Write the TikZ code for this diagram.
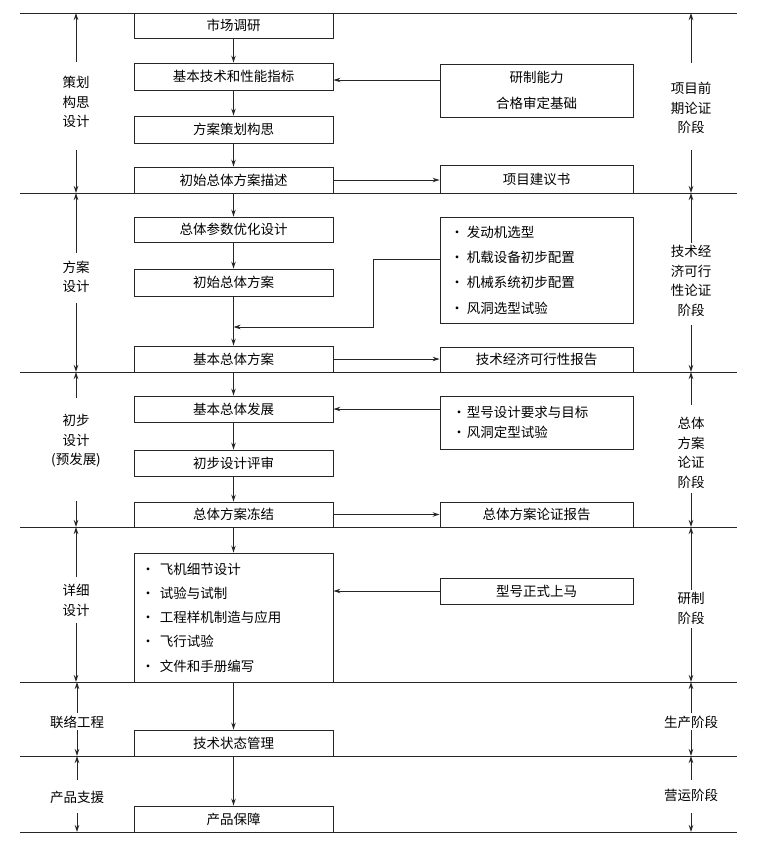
\documentclass[tikz,border=0pt]{standalone}
\usepackage{fontspec}
\setmainfont{Noto Sans CJK SC}
\usetikzlibrary{arrows.meta}
\newcommand\bul[1]{\makebox[#1][l]{\makebox[0pt]{•}}}
% #1 name, #2 x, #3 label y, #4 up-start y, #5 down-start y, #6 top line, #7 bottom line, #8 text
\newcommand\phase[8]{%
  \node[lab] (#1) at (#2,#3) {#8};
  \coordinate (#1u) at (#2,#4);
  \coordinate (#1d) at (#2,#5);
  \draw[arr] (#1u) -- (#1u |- #6);
  \draw[arr] (#1d) -- (#1d |- #7);}
\begin{document}
\begin{tikzpicture}[x=1pt,y=-1pt,
  ln/.style={line width=0.9pt, draw=black!85},
  arr/.style={ln,-{Stealth[length=7pt,width=4.5pt]}},
  mbox/.style={ln, minimum width=199pt, inner sep=0pt, font=\fontsize{13.5}{16}\selectfont},
  rbox/.style={ln, minimum width=193pt, inner sep=0pt, font=\fontsize{13.5}{16}\selectfont},
  lab/.style={align=center, inner sep=0pt, font=\fontsize{13.5}{19.5}\selectfont}]
\useasboundingbox (0,0) rectangle (757,844);

% separators
\foreach \n/\y in {0/13,1/193,2/372,3/527,4/682,5/756,6/832}{
  \coordinate (h\n) at (20,\y);
  \coordinate (g\n) at (737,\y);
}
\foreach \n in {0,...,6}{\draw[ln] (h\n) -- (g\n);}

% main column
\node[mbox, minimum height=25pt] (b1) at (233.5,25.5) {市场调研};
\node[mbox, minimum height=27pt] (b2) at (233.5,76.5) {基本技术和性能指标};
\node[mbox, minimum height=27pt] (b3) at (233.5,129.5) {方案策划构思};
\node[mbox, minimum height=26pt] (b4) at (233.5,180) {初始总体方案描述};
\node[mbox, minimum height=25pt] (b5) at (233.5,229.5) {总体参数优化设计};
\node[mbox, minimum height=27pt] (b6) at (233.5,282.5) {初始总体方案};
\node[mbox, minimum height=26pt] (b7) at (233.5,359) {基本总体方案};
\node[mbox, minimum height=26pt] (b8) at (233.5,409) {基本总体发展};
\node[mbox, minimum height=26pt] (b9) at (233.5,463) {初步设计评审};
\node[mbox, minimum height=25pt] (b10) at (233.5,514.5) {总体方案冻结};
\node[mbox, minimum height=129pt, text width=171pt, inner xsep=14pt, align=left,
      font=\fontsize{13.5}{24.3}\selectfont] (b11) at (233.5,617.5)
  {\bul{12pt}飞机细节设计\\\bul{12pt}试验与试制\\\bul{12pt}工程样机制造与应用\\\bul{12pt}飞行试验\\\bul{12pt}文件和手册编写};
\node[mbox, minimum height=26pt] (b12) at (233.5,743) {技术状态管理};
\node[mbox, minimum height=26pt] (b13) at (233.5,819) {产品保障};

\foreach \a/\b in {b1/b2,b2/b3,b3/b4,b4/b5,b5/b6,b6/b7,b7/b8,b8/b9,b9/b10,b10/b11,b11/b12,b12/b13}{
  \draw[arr] (\a.south) -- (\b.north);
}

% right column
\node[rbox, minimum height=53pt, align=center, font=\fontsize{13.5}{26}\selectfont] (r1) at (536.5,90.5) {研制能力\\合格审定基础};
\node[rbox, minimum height=28pt] (r2) at (536.5,179) {项目建议书};
\node[rbox, minimum height=106pt, text width=159pt, inner xsep=17pt, align=left,
      font=\fontsize{13.5}{25.3}\selectfont] (r3) at (536.5,270)
  {\bul{10pt}发动机选型\\\bul{10pt}机载设备初步配置\\\bul{10pt}机械系统初步配置\\\bul{10pt}风洞选型试验};
\node[rbox, minimum height=25pt] (r4) at (536.5,359.5) {技术经济可行性报告};
\node[rbox, minimum height=53pt, text width=155pt, inner xsep=19pt, align=left,
      font=\fontsize{13.5}{20}\selectfont] (r5) at (536.5,422.5)
  {\bul{8pt}型号设计要求与目标\\\bul{8pt}风洞定型试验};
\node[rbox, minimum height=25pt] (r6) at (536.5,514.5) {总体方案论证报告};
\node[rbox, minimum height=26pt] (r7) at (536.5,591) {型号正式上马};

% horizontal connectors
\coordinate (y80) at (0,80);
\draw[arr] (r1.west |- y80) -- (b2.east |- y80);
\draw[arr] (b4.east) -- (b4.east -| r2.west);
\coordinate (k1) at (373,259);
\coordinate (k2) at (373,327);
\draw[arr] (r3.west |- k1) -- (k1) -- (k2) -- (k2 -| b6.south);
\draw[arr] (b7.east) -- (b7.east -| r4.west);
\draw[arr] (b8.east -| r5.west) -- (b8.east);
\draw[arr] (b10.east) -- (b10.east -| r6.west);
\draw[arr] (r7.west) -- (r7.west -| b11.east);

% left phases
\phase{L1}{76}{102}{62}{150}{h0}{h1}{策划\\构思\\设计}
\phase{L2}{76}{277}{253}{303}{h1}{h2}{方案\\设计}
\phase{L3}{76}{441}{398}{501}{h2}{h3}{初步\\设计\\(预发展)}
\phase{L4}{76}{600.5}{577}{623}{h3}{h4}{详细\\设计}
\phase{L5}{77}{722}{713}{730}{h4}{h5}{联络工程}
\phase{L6}{77}{797}{780}{813}{h5}{h6}{产品支援}

% right phases
\phase{R1}{691}{108}{63}{150}{h0}{h1}{项目前\\期论证\\阶段}
\phase{R2}{691}{281}{243}{325}{h1}{h2}{技术经\\济可行\\性论证\\阶段}
\phase{R3}{691}{453}{405}{493}{h2}{h3}{总体\\方案\\论证\\阶段}
\phase{R4}{691}{608.5}{590}{628}{h3}{h4}{研制\\阶段}
\phase{R5}{691}{722}{713}{730}{h4}{h5}{生产阶段}
\phase{R6}{691}{795}{780}{813}{h5}{h6}{营运阶段}
\end{tikzpicture}
\end{document}
